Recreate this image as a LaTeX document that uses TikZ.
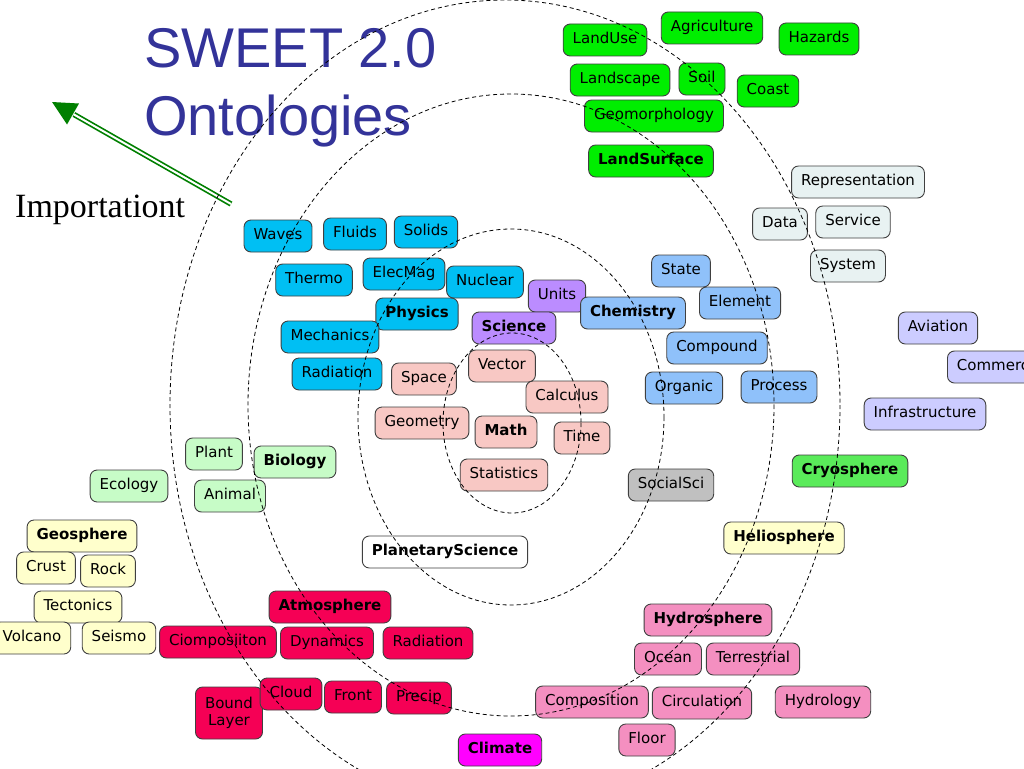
\documentclass[tikz,border=0pt]{standalone}
\usepackage{fontspec}
\newfontfamily\boxfont{DejaVu Sans}
\newfontfamily\ttlfont{Liberation Sans}
\newfontfamily\impfont{Liberation Serif}
\definecolor{cLand}{RGB}{0,238,0}
\definecolor{cRep}{RGB}{232,242,242}
\definecolor{cPhys}{RGB}{0,191,243}
\definecolor{cSci}{RGB}{187,140,255}
\definecolor{cChem}{RGB}{143,193,250}
\definecolor{cMath}{RGB}{248,200,196}
\definecolor{cBio}{RGB}{199,252,199}
\definecolor{cGeo}{RGB}{255,255,204}
\definecolor{cInfra}{RGB}{204,204,255}
\definecolor{cSoc}{RGB}{192,192,192}
\definecolor{cCryo}{RGB}{90,235,90}
\definecolor{cAtm}{RGB}{245,0,85}
\definecolor{cClim}{RGB}{255,0,255}
\definecolor{cHyd}{RGB}{244,143,192}
\definecolor{cTitle}{RGB}{51,51,153}
\definecolor{cArrow}{RGB}{0,128,0}
\begin{document}
\begin{tikzpicture}[x=1pt,y=-1pt,
  box/.style={draw=black!75, line width=0.9pt, rounded corners=7pt,
    inner xsep=9.5pt, inner ysep=0pt, minimum height=32pt,
    text height=11pt, text depth=3.5pt,
    font=\boxfont\fontsize{15}{17.5}\selectfont},
  hd/.style={box, font=\boxfont\bfseries\fontsize{15}{17.5}\selectfont},
  land/.style={fill=cLand}, rep/.style={fill=cRep}, phys/.style={fill=cPhys},
  sci/.style={fill=cSci}, chem/.style={fill=cChem}, mth/.style={fill=cMath},
  bio/.style={fill=cBio}, geo/.style={fill=cGeo}, infra/.style={fill=cInfra},
  soc/.style={fill=cSoc}, cryo/.style={fill=cCryo}, atm/.style={fill=cAtm},
  clim/.style={fill=cClim}, hyd/.style={fill=cHyd}, wht/.style={fill=white},
  ring/.style={draw=black, line width=0.8pt, dash pattern=on 4pt off 3pt}]
\useasboundingbox (0,0) rectangle (1024,768);
\clip (0,0) rectangle (1024,768);
\fill[white] (0,0) rectangle (1024,768);

% title and label
\node[anchor=base west, inner sep=0pt, text=cTitle, font=\ttlfont\fontsize{56}{68}\selectfont] (t1) at (144,67) {SWEET 2.0};
\node[anchor=base west, inner sep=0pt, text=cTitle, font=\ttlfont\fontsize{56}{68}\selectfont] (t2) at (144,135) {Ontologies};
\node[anchor=base west, inner sep=0pt, font=\impfont\fontsize{34}{39}\selectfont] (imp) at (15,217) {Importationt};

% arrow
\coordinate (tail) at (231,204);
\coordinate (tip) at (52,102);
\coordinate (hb) at (74,114.5);
\coordinate (hl) at (67,124.5);
\coordinate (hr) at (79,103.5);
\draw[cArrow, line width=1.7pt, double=white, double distance=2pt] (tail) -- (hb);
\fill[cArrow] (tip) -- (hl) -- (hr) -- cycle;

% Land surface
\node[box,land] (landuse) at (605,40) {LandUse};
\node[box,land] (agri) at (712,28) {Agriculture};
\node[box,land] (haz) at (819,39) {Hazards};
\node[box,land] (landscape) at (620,80) {Landscape};
\node[box,land] (soil) at (702,79) {Soil};
\node[box,land] (coast) at (768,91) {Coast};
\node[box,land] (geomorph) at (654,116) {Geomorphology};
\node[hd,land] (landsurf) at (651,161) {LandSurface};

% Representation
\node[box,rep] (repr) at (858,182) {Representation};
\node[box,rep] (data) at (780,224) {Data};
\node[box,rep] (service) at (853,222) {Service};
\node[box,rep] (system) at (848,266) {System};

% Physics
\node[box,phys] (waves) at (278,236) {Waves};
\node[box,phys] (fluids) at (355,234) {Fluids};
\node[box,phys] (solids) at (426,232) {Solids};
\node[box,phys] (thermo) at (314,280) {Thermo};
\node[box,phys] (elecmag) at (404,274) {ElecMag};
\node[box,phys] (nuclear) at (485,282) {Nuclear};
\node[hd,phys] (physics) at (417,314) {Physics};
\node[box,phys] (mechanics) at (330,337) {Mechanics};
\node[box,phys] (radphys) at (337,374) {Radiation};

% Science
\node[box,sci] (units) at (557,296) {Units};
\node[hd,sci] (science) at (514,328) {Science};

% Chemistry
\node[hd,chem] (chemistry) at (633,313) {Chemistry};
\node[box,chem] (state) at (681,271) {State};
\node[box,chem] (element) at (740,303) {Element};
\node[box,chem] (compound) at (717,348) {Compound};
\node[box,chem] (organic) at (684,388) {Organic};
\node[box,chem] (process) at (779,387) {Process};

% Math
\node[box,mth] (space) at (424,379) {Space};
\node[box,mth] (vector) at (502,366) {Vector};
\node[box,mth] (calculus) at (567,397) {Calculus};
\node[box,mth] (geometry) at (422,423) {Geometry};
\node[hd,mth] (math) at (506,432) {Math};
\node[box,mth] (time) at (582,438) {Time};
\node[box,mth] (stats) at (504,475) {Statistics};

% Infrastructure
\node[box,infra] (aviation) at (938,328) {Aviation};
\node[box,infra,anchor=west] (commerce) at (947,367) {Commerce};
\node[box,infra] (infrastr) at (925,414) {Infrastructure};

\node[box,soc] (socialsci) at (671,485) {SocialSci};
\node[hd,cryo] (cryo) at (850,471) {Cryosphere};
\node[hd,geo] (helio) at (784,538) {Heliosphere};

% Biology
\node[box,bio] (plant) at (214,454) {Plant};
\node[hd,bio] (biology) at (295,462) {Biology};
\node[box,bio] (ecology) at (129,486) {Ecology};
\node[box,bio] (animal) at (230,496) {Animal};

% Geosphere
\node[hd,geo] (geosphere) at (82,536) {Geosphere};
\node[box,geo] (crust) at (46,568) {Crust};
\node[box,geo] (rock) at (108,571) {Rock};
\node[box,geo] (tectonics) at (78,607) {Tectonics};
\node[box,geo] (volcano) at (32,638) {Volcano};
\node[box,geo] (seismo) at (119,638) {Seismo};

\node[hd,wht] (planetary) at (445,552) {PlanetaryScience};

% Atmosphere
\node[hd,atm] (atmosphere) at (330,607) {Atmosphere};
\node[box,atm] (ciomp) at (218,642) {Ciomposiiton};
\node[box,atm] (dynamics) at (327,643) {Dynamics};
\node[box,atm] (radatm) at (428,643) {Radiation};
\node[box,atm,align=center, minimum height=52pt, text height=, text depth=] (bound) at (229,713) {Bound\\Layer};
\node[box,atm] (cloud) at (291,694) {Cloud};
\node[box,atm] (front) at (353,697) {Front};
\node[box,atm] (precip) at (419,698) {Precip};
\node[hd,clim] (climate) at (500,750) {Climate};

% Hydrosphere
\node[hd,hyd] (hydro) at (708,620) {Hydrosphere};
\node[box,hyd] (ocean) at (668,659) {Ocean};
\node[box,hyd] (terr) at (753,659) {Terrestrial};
\node[box,hyd] (compos) at (592,702) {Composition};
\node[box,hyd] (circ) at (702,703) {Circulation};
\node[box,hyd] (hydrology) at (823,702) {Hydrology};
\node[box,hyd] (floor) at (647,740) {Floor};

% rings
\draw[ring] (512,423) ellipse [x radius=69, y radius=90];
\draw[ring] (511,417) ellipse [x radius=153, y radius=188];
\draw[ring] (511,405) ellipse [x radius=263, y radius=311];
\draw[ring] (505,405) ellipse [x radius=335, y radius=405];
\end{tikzpicture}
\end{document}
